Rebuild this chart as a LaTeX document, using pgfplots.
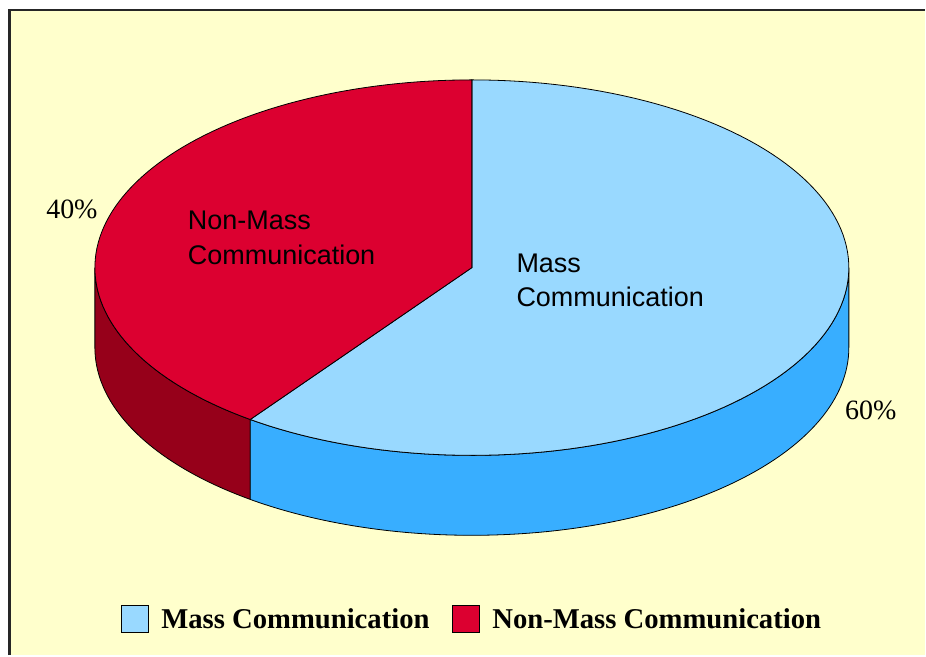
\documentclass[border=0pt]{standalone}
\usepackage{fontspec}
\setmainfont{Liberation Serif}
\newfontfamily\arial{Liberation Sans}
\usepackage{pgfplots}
\pgfplotsset{compat=1.18}

\definecolor{bgyellow}{RGB}{255,255,204}
\definecolor{massTop}{RGB}{153,217,255}
\definecolor{massSide}{RGB}{56,174,255}
\definecolor{nonTop}{RGB}{220,0,48}
\definecolor{nonSide}{RGB}{150,0,26}

% shares in percent
\def\pmass{60}
\def\pnon{40}

\begin{document}
\begin{tikzpicture}
% slices start at the top and run clockwise
\pgfmathsetmacro{\cut}{90-3.6*\pmass}
\pgfmathsetmacro{\cutb}{\cut+360}
\begin{axis}[
    x=1pt, y=1pt,
    xmin=0, xmax=926, ymin=0, ymax=656,
    hide axis, clip=false,
    legend columns=2,
    legend image code/.code={\draw[#1] (0pt,-13.5pt) rectangle (27pt,13.5pt); \path (38pt,0pt);},
    legend style={at={(axis cs:472.5,36)}, anchor=center, draw=none, fill=none,
        font=\bfseries\fontsize{28.7}{32}\selectfont,
        /tikz/every even column/.append style={column sep=20pt}},
]
% background and frame
\fill[white] (0,0) rectangle (926,656);
\fill[bgyellow] (9.5,0) rectangle (926,646);
\draw[line width=2.5pt, black!85] (9.5,0) -- (9.5,646) -- (926,646);

% side walls
\addplot[fill=nonSide, draw=black, line width=0.8pt, forget plot,
    domain=180:\cutb, samples=60, variable=\t]
    ({472.5+377.5*cos(\t)},{388+188*sin(\t)})
    -- ++(0pt,-80pt) arc[start angle=\cutb, end angle=180, x radius=377.5pt, y radius=188pt] -- cycle;
\addplot[fill=massSide, draw=black, line width=0.8pt, forget plot,
    domain=\cutb:360, samples=80, variable=\t]
    ({472.5+377.5*cos(\t)},{388+188*sin(\t)})
    -- ++(0pt,-80pt) arc[start angle=360, end angle=\cutb, x radius=377.5pt, y radius=188pt] -- cycle;

% top faces
\addplot[fill=massTop, draw=black, line width=0.8pt,
    domain=\cut:90, samples=120, variable=\t]
    ({472.5+377.5*cos(\t)},{388+188*sin(\t)}) -- (472.5,388) -- cycle;
\addlegendentry{Mass Communication}
\addplot[fill=nonTop, draw=black, line width=0.8pt,
    domain=90:\cutb, samples=90, variable=\t]
    ({472.5+377.5*cos(\t)},{388+188*sin(\t)}) -- (472.5,388) -- cycle;
\addlegendentry{Non-Mass Communication}

% labels
\node[font=\fontsize{28}{32}\selectfont] at (72,446) {40\%};
\node[font=\fontsize{28}{32}\selectfont] at (872,245) {60\%};
\node[font=\arial\fontsize{27}{32}\selectfont, anchor=base west, inner sep=0pt] at (188,426.5) {Non-Mass};
\node[font=\arial\fontsize{27}{32}\selectfont, anchor=base west, inner sep=0pt] at (188,391) {Communication};
\node[font=\arial\fontsize{27}{32}\selectfont, anchor=base west, inner sep=0pt] at (517,383) {Mass};
\node[font=\arial\fontsize{27}{32}\selectfont, anchor=base west, inner sep=0pt] at (517,349) {Communication};
\end{axis}
\end{tikzpicture}
\end{document}
